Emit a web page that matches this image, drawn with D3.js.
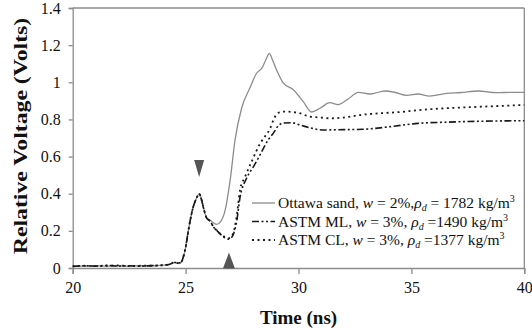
<!DOCTYPE html>
<html><head><meta charset="utf-8">
<script src="https://cdn.jsdelivr.net/npm/d3@7"></script>
<style>body{margin:0;background:#fff}svg{display:block}</style>
</head><body><svg id="c" width="532" height="336"></svg>
<script>
const xTicks = [20, 25, 30, 35, 40];
const yTicks = [0, 0.2, 0.4, 0.6, 0.8, 1, 1.2, 1.4];
const yTickLabels = ["0", "0.2", "0.4", "0.6", "0.8", "1", "1.2", "1.4"];

const ottawaT = [20, 20.5, 21, 21.5, 22, 22.5, 23, 23.5, 24, 24.3, 24.5, 24.7, 24.8, 24.9, 25.0, 25.12, 25.34, 25.5, 25.6, 25.7, 25.78, 25.93, 26.05, 26.16, 26.37, 26.55, 26.75, 26.97, 27.19, 27.48, 27.85, 28.15, 28.37, 28.55, 28.71, 28.85, 29.03, 29.33, 29.77, 30.21, 30.58, 30.95, 31.39, 31.75, 32.2, 32.65, 33.17, 33.83, 34.3, 34.79, 35.3, 35.8, 36.56, 37.2, 37.96, 38.78, 39.4, 40];
const ottawaV = [0.01, 0.01, 0.012, 0.01, 0.012, 0.01, 0.012, 0.012, 0.015, 0.02, 0.03, 0.025, 0.03, 0.06, 0.11, 0.2, 0.33, 0.38, 0.40, 0.37, 0.33, 0.27, 0.26, 0.25, 0.235, 0.25, 0.31, 0.47, 0.69, 0.86, 0.97, 1.05, 1.075, 1.12, 1.156, 1.12, 1.066, 0.995, 0.96, 0.896, 0.84, 0.86, 0.89, 0.88, 0.91, 0.946, 0.937, 0.953, 0.945, 0.93, 0.937, 0.926, 0.94, 0.945, 0.953, 0.944, 0.946, 0.946];

const mlT = [20, 20.5, 21, 21.5, 22, 22.5, 23, 23.5, 24, 24.3, 24.5, 24.7, 24.8, 24.9, 25.0, 25.12, 25.34, 25.5, 25.6, 25.7, 25.78, 25.93, 26.1, 26.23, 26.4, 26.6, 26.89, 27.0, 27.11, 27.26, 27.41, 27.7, 28.0, 28.3, 28.66, 28.88, 29.1, 29.3, 29.7, 30.07, 30.5, 31.09, 32.0, 32.86, 34.0, 35.3, 36.5, 38.0, 39.0, 40];
const mlV = [0.008, 0.012, 0.01, 0.014, 0.01, 0.012, 0.01, 0.013, 0.015, 0.02, 0.03, 0.028, 0.03, 0.06, 0.11, 0.2, 0.33, 0.38, 0.40, 0.37, 0.33, 0.27, 0.25, 0.222, 0.2, 0.176, 0.155, 0.16, 0.18, 0.25, 0.38, 0.483, 0.545, 0.61, 0.69, 0.725, 0.765, 0.78, 0.782, 0.77, 0.755, 0.743, 0.745, 0.747, 0.76, 0.779, 0.785, 0.79, 0.792, 0.793];

const clT = [20, 20.5, 21, 21.5, 22, 22.5, 23, 23.5, 24, 24.3, 24.5, 24.7, 24.8, 24.9, 25.0, 25.12, 25.34, 25.5, 25.6, 25.7, 25.78, 25.93, 26.1, 26.23, 26.4, 26.6, 26.89, 27.0, 27.11, 27.26, 27.41, 27.63, 27.95, 28.3, 28.52, 28.74, 28.9, 29.1, 29.4, 30.0, 30.51, 31.0, 31.39, 32.0, 32.8, 33.6, 34.5, 35.3, 36.5, 38.0, 39.0, 40];
const clV = [0.01, 0.012, 0.01, 0.012, 0.014, 0.01, 0.012, 0.012, 0.015, 0.02, 0.03, 0.025, 0.03, 0.06, 0.11, 0.2, 0.33, 0.38, 0.40, 0.37, 0.33, 0.27, 0.25, 0.222, 0.2, 0.178, 0.16, 0.165, 0.187, 0.276, 0.42, 0.49, 0.58, 0.67, 0.71, 0.75, 0.8, 0.835, 0.842, 0.835, 0.815, 0.81, 0.806, 0.81, 0.825, 0.833, 0.84, 0.85, 0.86, 0.868, 0.873, 0.878];

const markerDown = [25.6, 0.49];
const markerUp = [26.92, 0.04];

const serif = "'Liberation Serif','Times New Roman',serif";
const svg = d3.select("#c");
const L = 72.7, R = 524.3, T = 8, B = 268;
const x = d3.scaleLinear().domain([20, 40]).range([L, R]);
const y = d3.scaleLinear().domain([0, 1.4]).range([B, T]);
const gray = "#8c8c8c";

svg.append("line").attr("x1", L).attr("x2", R).attr("y1", T).attr("y2", T).attr("stroke", gray).attr("stroke-width", 1.3);
svg.append("line").attr("x1", R).attr("x2", R).attr("y1", T).attr("y2", B).attr("stroke", gray).attr("stroke-width", 1.3);

const xAxis = svg.append("g").attr("transform", `translate(0,${B})`)
  .call(d3.axisBottom(x).tickValues(xTicks).tickSize(6).tickPadding(8).tickFormat(d3.format("d")));
const yAxis = svg.append("g").attr("transform", `translate(${L},0)`)
  .call(d3.axisLeft(y).tickValues(yTicks).tickSize(4).tickPadding(8).tickFormat((d, i) => yTickLabels[i]));
[xAxis, yAxis].forEach(g => {
  g.attr("font-family", null).attr("font-size", null);
  g.select(".domain").attr("stroke", gray).attr("stroke-width", 1.3);
  g.selectAll(".tick line").attr("stroke", gray).attr("stroke-width", 1.3);
  g.selectAll(".tick text").style("font-family", serif).style("font-size", "16px").attr("fill", "#111");
});

const line = d3.line().x(d => x(d[0])).y(d => y(d[1])).curve(d3.curveMonotoneX);
const zip = (a, b) => a.map((t, i) => [t, b[i]]);

svg.append("path").datum(zip(ottawaT, ottawaV)).attr("d", line).attr("fill", "none").attr("stroke", gray).attr("stroke-width", 1.3);
svg.append("path").datum(zip(mlT, mlV)).attr("d", line).attr("fill", "none").attr("stroke", "#1a1a1a").attr("stroke-width", 1.6).attr("stroke-dasharray", "7,2.5,2,2.5,2,2.5");
svg.append("path").datum(zip(clT, clV)).attr("d", line).attr("fill", "none").attr("stroke", "#1a1a1a").attr("stroke-width", 1.8).attr("stroke-dasharray", "2,3.5");

const mx1 = x(markerDown[0]), my1 = y(markerDown[1]);
svg.append("path").attr("d", `M${mx1 - 5},${my1 - 17}L${mx1 + 5},${my1 - 17}L${mx1},${my1}Z`).attr("fill", "#555");
const mx2 = x(markerUp[0]), my2 = y(markerUp[1]);
svg.append("path").attr("d", `M${mx2 - 6},${my2 + 8}L${mx2 + 6},${my2 + 8}L${mx2},${my2 - 8}Z`).attr("fill", "#555");

const legend = [
  {name: "Ottawa sand,  ", w: "2%,", rho: "= 1782 kg/m", stroke: gray, sw: 1.3, dash: null},
  {name: "ASTM ML,  ", w: "3%, ", rho: "=1490 kg/m", stroke: "#1a1a1a", sw: 1.6, dash: "7,2.5,2,2.5,2,2.5"},
  {name: "ASTM CL,  ", w: "3%, ", rho: "=1377 kg/m", stroke: "#1a1a1a", sw: 1.8, dash: "2,3.5"}
];
const lg = svg.append("g");
legend.forEach((d, i) => {
  const yy = 203 + i * 18.5;
  lg.append("line").attr("x1", 252).attr("x2", 275).attr("y1", yy).attr("y2", yy)
    .attr("stroke", d.stroke).attr("stroke-width", d.sw).attr("stroke-dasharray", d.dash);
  const t = lg.append("text").attr("x", 278).attr("y", yy + 5).style("font-family", serif).style("font-size", "15.5px").attr("fill", "#111");
  t.append("tspan").text(d.name);
  t.append("tspan").attr("font-style", "italic").text("w");
  t.append("tspan").text(" = " + d.w);
  t.append("tspan").attr("font-style", "italic").text("ρ");
  t.append("tspan").attr("font-style", "italic").style("font-size", "10px").attr("dy", 3).text("d");
  t.append("tspan").attr("dy", -3).text(" " + d.rho);
  t.append("tspan").style("font-size", "10px").attr("dy", -6).text("3");
});

svg.append("text").attr("x", (L + R) / 2).attr("y", 324).attr("text-anchor", "middle")
  .style("font-family", serif).style("font-size", "19px").attr("font-weight", "bold").attr("fill", "#111").text("Time (ns)");
svg.append("text").attr("transform", `translate(27,${(T + B) / 2 - 2}) rotate(-90) scale(1.25,1)`).attr("text-anchor", "middle")
  .style("font-family", serif).style("font-size", "19px").attr("font-weight", "bold").attr("fill", "#111").text("Relative Voltage (Volts)");
</script></body></html>
